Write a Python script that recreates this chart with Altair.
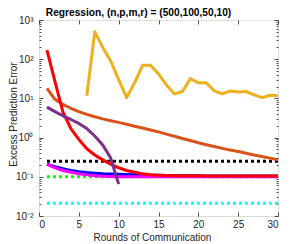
import altair as alt
import pandas as pd

rounds = list(range(1, 31))

red = [170, 27, 4.5, 1.7, 0.9, 0.52, 0.36, 0.27, 0.21, 0.17, 0.145, 0.13, 0.12, 0.113, 0.11,
       0.108, 0.107, 0.107, 0.106, 0.106, 0.105, 0.105, 0.105, 0.105, 0.105, 0.105, 0.105, 0.105, 0.105, 0.105]
orange = [18, 9.5, 7, 5.6, 4.6, 3.9, 3.4, 3.0, 2.7, 2.45, 2.2, 1.95, 1.75, 1.57, 1.4,
          1.23, 1.08, 0.95, 0.84, 0.74, 0.66, 0.59, 0.53, 0.48, 0.44, 0.4, 0.36, 0.33, 0.3, 0.27]
yellow_x = list(range(6, 31))
yellow = [11.7, 500, 200, 90, 30, 10.5, 25, 70, 70, 42, 22, 13, 15, 32, 25, 25, 15.5, 13,
          15.5, 14.5, 15, 12.3, 10.5, 12, 11.6]
purple_x = list(range(1, 11))
purple = [6, 4.6, 3.6, 2.9, 2.3, 1.7, 1.1, 0.65, 0.3, 0.065]
blue = [0.21, 0.18, 0.16, 0.145, 0.135, 0.128, 0.124, 0.12, 0.118, 0.116, 0.114, 0.112, 0.111, 0.11, 0.11,
        0.108, 0.107, 0.107, 0.106, 0.106, 0.105, 0.105, 0.105, 0.105, 0.105, 0.105, 0.105, 0.105, 0.105, 0.105]
magenta = [0.21, 0.17, 0.145, 0.13, 0.12, 0.112, 0.106, 0.103, 0.102, 0.101, 0.1, 0.1, 0.1, 0.1, 0.1,
           0.1, 0.1, 0.1, 0.1, 0.1, 0.1, 0.1, 0.1, 0.1, 0.1, 0.1, 0.1, 0.1, 0.1, 0.1]
black_level = 0.25
green_level = 0.1
cyan_level = 0.021

x_major = [0, 5, 10, 15, 20, 25, 30]
y_major = [0.01, 0.1, 1, 10, 100, 1000]
y_minor = [m * 10 ** k for k in range(-2, 3) for m in range(2, 10)]

W, H = 239, 196
AX = "#262626"
FONT = "Liberation Sans"

def frame(xs, ys):
    return pd.DataFrame({"x": xs, "y": ys})

xscale = alt.Scale(domain=[0, 30], nice=False, zero=False)
yscale = alt.Scale(type="log", domain=[0.01, 1000], nice=False)

label_expr = ("datum.value >= 999 ? '10³' : datum.value >= 99 ? '10²' : datum.value >= 9 ? '10¹' : "
              "datum.value >= 0.9 ? '10⁰' : datum.value >= 0.09 ? '10⁻¹' : '10⁻²'")


def line_layer(df, color, width=3, dash=None, main=False):
    kw = dict(color=color, strokeWidth=width, clip=True)
    if dash:
        kw.update(strokeDash=dash, strokeCap="butt")
    else:
        kw.update(strokeCap="butt", strokeJoin="round")
    if main:
        xa = alt.Axis(values=x_major, tickSize=0, title="Rounds of Communication", grid=False,
                      domain=False, labelPadding=3, labelFontSize=10, titleFontSize=10,
                      labelColor=AX, titleColor=AX, labelFont=FONT, titleFont=FONT,
                      titleFontWeight="normal", titleX=113, titleY=24, titleBaseline="alphabetic")
        ya = alt.Axis(values=y_major, tickSize=0, title="Excess Prediction Error", grid=False,
                      domain=False, labelPadding=6, labelExpr=label_expr, labelFontSize=10,
                      titleFontSize=10, labelColor=AX, titleColor=AX, labelFont=FONT,
                      titleFont=FONT, titleFontWeight="normal", titleX=-26, titleY=H / 2 - 4,
                      titleBaseline="middle", titleAngle=270)
    else:
        xa = None
        ya = None
    return alt.Chart(df).mark_line(**kw).encode(
        x=alt.X("x:Q", scale=xscale, axis=xa),
        y=alt.Y("y:Q", scale=yscale, axis=ya),
    )


def tick_layer(df, channel, orient, values, size):
    ax = alt.Axis(orient=orient, offset=-(W if channel == "y" else H), values=values, labels=False,
                  domain=False, title=None, tickSize=size, grid=False, tickColor=AX, tickWidth=0.8)
    if channel == "y":
        enc = dict(x=alt.X("x:Q", scale=xscale, axis=None), y=alt.Y("y:Q", scale=yscale, axis=ax))
    else:
        enc = dict(x=alt.X("x:Q", scale=xscale, axis=ax), y=alt.Y("y:Q", scale=yscale, axis=None))
    return alt.Chart(df).mark_point(opacity=0).encode(**enc)


base = frame(rounds, orange)

layers = [
    line_layer(frame(rounds, [cyan_level] * 30), "#00FFFF", dash=[3, 3], main=True),
    line_layer(frame(rounds, [green_level] * 30), "#00FF00", dash=[3, 3]),
    line_layer(frame(rounds, [black_level] * 30), "#000000", dash=[3, 3]),
    line_layer(frame(rounds, blue), "#0000FF"),
    line_layer(frame(rounds, magenta), "#FF00FF"),
    line_layer(frame(rounds, orange), "#D95319"),
    line_layer(frame(yellow_x, yellow), "#EDB120"),
    line_layer(frame(rounds, red), "#FF0000"),
    line_layer(frame(purple_x, purple), "#7E2F8E"),
    tick_layer(base, "y", "right", y_major, 4),
    tick_layer(base, "y", "right", y_minor, 2),
    tick_layer(base, "y", "left", y_major, 4),
    tick_layer(base, "y", "left", y_minor, 2),
    tick_layer(base, "x", "top", x_major, 4),
    tick_layer(base, "x", "bottom", x_major, 4),
]

chart = alt.layer(*layers).resolve_axis(x="independent", y="independent").properties(
    width=W,
    height=H,
    title=alt.TitleParams("Regression, (n,p,m,r) = (500,100,50,10)", fontSize=10.2, font=FONT,
                          fontWeight="bold", color="#000000", anchor="middle", dx=-20, offset=-3),
    autosize=alt.AutoSizeParams(type="none"),
    padding={"left": 31, "top": 12, "right": 22, "bottom": 26},
).configure_view(stroke=AX, strokeWidth=0.8).configure(background="white")

chart.save("out.html", embed_options={"renderer": "svg", "actions": False})
